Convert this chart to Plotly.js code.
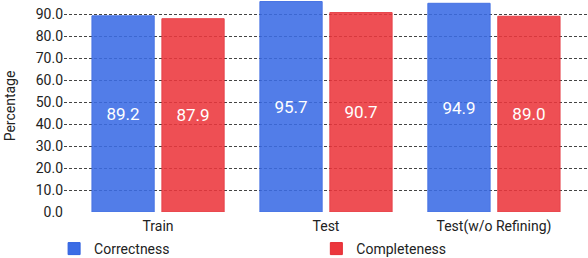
<!DOCTYPE html>
<html>
<head>
<meta charset="utf-8">
<script src="https://cdn.plot.ly/plotly-3.0.1.min.js"></script>
<style>html,body{margin:0;padding:0;background:#fff;}#chart{width:588px;height:258px;}</style>
</head>
<body>
<div id="chart"></div>
<script>
const categories = ["Train", "Test", "Test(w/o Refining)"];
const correctness = [89.2, 95.7, 94.9];
const completeness = [87.9, 90.7, 89.0];
const seriesNames = ["Correctness", "Completeness"];

const fmt = v => v.toFixed(1);

const traces = [
  {
    type: "bar", name: seriesNames[0], x: categories, y: correctness, legend: "legend",
    text: correctness.map(fmt), textposition: "inside", insidetextanchor: "middle",
    textfont: {color: "#ffffff", size: 17, family: "Roboto"},
    marker: {color: "#3b6ce5", opacity: 0.88, line: {color: "#2f60e0", width: 1}},
    hoverinfo: "none"
  },
  {
    type: "bar", name: seriesNames[1], x: categories, y: completeness, legend: "legend2",
    text: completeness.map(fmt), textposition: "inside", insidetextanchor: "middle",
    textfont: {color: "#ffffff", size: 17, family: "Roboto"},
    marker: {color: "#ec373d", opacity: 0.88, line: {color: "#e42b32", width: 1}},
    hoverinfo: "none"
  }
];

const legendStyle = {orientation: "h", xref: "container", xanchor: "left",
                     yref: "container", yanchor: "middle", y: (258 - 249) / 258,
                     font: {size: 14, family: "Roboto"}, itemclick: false};

const layout = {
  width: 588, height: 258,
  margin: {l: 64, r: 0, t: 0, b: 46, autoexpand: false},
  paper_bgcolor: "#ffffff", plot_bgcolor: "#ffffff",
  font: {family: "Roboto", size: 14, color: "#222222"},
  barmode: "group", bargap: 0.167, bargroupgap: 0.11,
  showlegend: true,
  legend: Object.assign({}, legendStyle, {x: 0.092}),
  legend2: Object.assign({}, legendStyle, {x: 0.538}),
  xaxis: {range: [-0.56, 2.56], showgrid: false, showline: false, zeroline: false,
          ticks: "", ticklabelstandoff: 4, tickfont: {size: 14}, fixedrange: true},
  yaxis: {range: [0, 96.4], tick0: 0, dtick: 10, tickformat: ".1f",
          showgrid: true, gridcolor: "#444444", gridwidth: 1, griddash: "3px,2px",
          zeroline: false, showline: false, ticks: "", tickfont: {size: 14},
          title: {text: "Percentage", font: {size: 14}, standoff: 16}, fixedrange: true}
};

Plotly.newPlot("chart", traces, layout, {displayModeBar: false, staticPlot: true});
</script>
</body>
</html>
